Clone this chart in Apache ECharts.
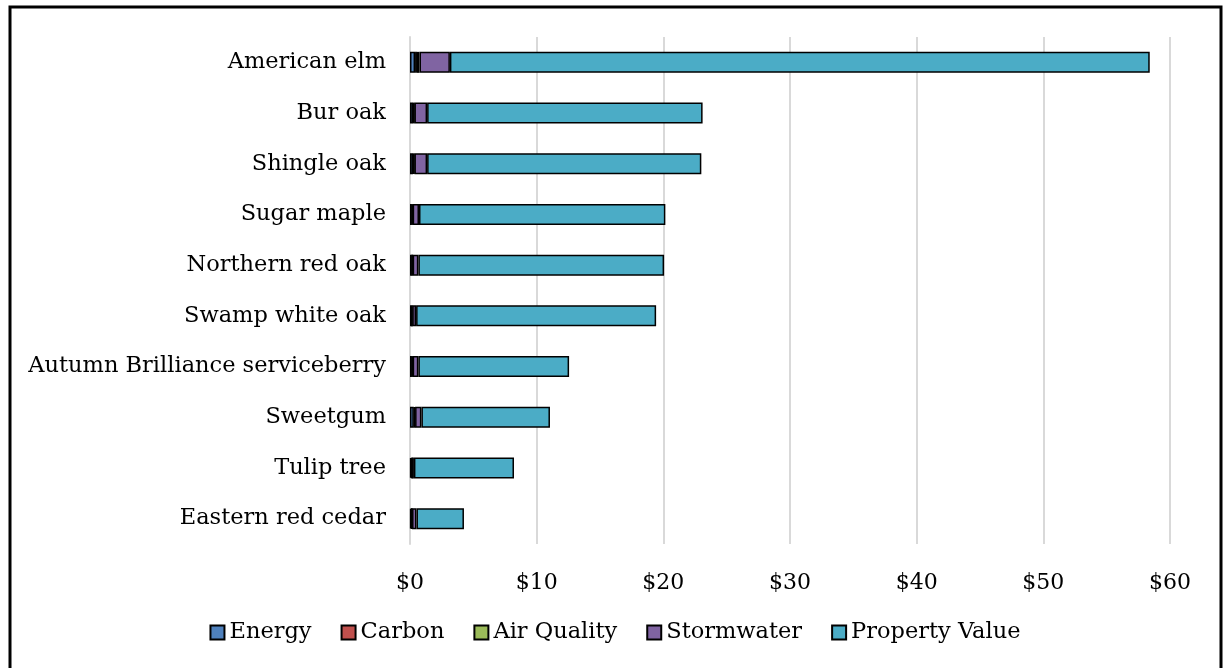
<!DOCTYPE html>
<html>
<head>
<meta charset="utf-8">
<script src="https://cdn.jsdelivr.net/npm/echarts@6/dist/echarts.min.js"></script>
<style>
html,body{margin:0;padding:0;background:#fff;}
#c{width:1230px;height:668px;}
</style>
</head>
<body>
<div id="c"></div>
<script>
const categories = ["American elm","Bur oak","Shingle oak","Sugar maple","Northern red oak","Swamp white oak","Autumn Brilliance serviceberry","Sweetgum","Tulip tree","Eastern red cedar"];
const energy     = [0.40, 0.25, 0.25, 0.15, 0.15, 0.12, 0.15, 0.30, 0.10, 0.10];
const carbon     = [0.15, 0.05, 0.05, 0.03, 0.03, 0.03, 0.03, 0.05, 0.03, 0.03];
const airQuality = [0.20, 0.05, 0.05, 0.03, 0.03, 0.03, 0.03, 0.05, 0.03, 0.03];
const stormwater = [2.40, 1.00, 1.00, 0.50, 0.45, 0.30, 0.45, 0.50, 0.15, 0.35];
const propertyValue = [55.25, 21.75, 21.65, 19.45, 19.40, 18.95, 11.90, 10.15, 7.90, 3.75];
const seriesNames = ["Energy","Carbon","Air Quality","Stormwater","Property Value"];
const seriesColors = ["#4f81bd","#c0504d","#9bbb59","#8064a2","#4bacc6"];
const xTicks = {min:0, max:60, interval:10};

const FONT = "DejaVu Serif";
const chart = echarts.init(document.getElementById('c'), null, {renderer:'canvas'});
const dataSets = [energy, carbon, airQuality, stormwater, propertyValue];
chart.setOption({
  animation:false,
  textStyle:{fontFamily:FONT},
  grid:{left:410, right:60, top:37, bottom:124, containLabel:false},
  legend:{
    bottom:19, left:'center',
    itemWidth:14, itemHeight:14, itemGap:29,
    icon:'rect',
    textStyle:{fontFamily:FONT, fontSize:22.5, color:'#000'},
    data:seriesNames
  },
  xAxis:{
    type:'value', min:xTicks.min, max:xTicks.max, interval:xTicks.interval,
    axisLine:{show:false}, axisTick:{show:false},
    splitLine:{lineStyle:{color:'#d9d9d9', width:2}},
    axisLabel:{formatter:v=>'$'+v, fontFamily:FONT, fontSize:22, color:'#000', margin:28}
  },
  yAxis:{
    type:'category', data:categories, inverse:true,
    axisLine:{show:true, lineStyle:{color:'#d9d9d9', width:2}},
    axisTick:{show:false},
    axisLabel:{fontFamily:FONT, fontSize:22.5, color:'#000', margin:24}
  },
  series: seriesNames.map((n,i)=>({
    name:n, type:'bar', stack:'total', barWidth:21,
    data:dataSets[i],
    itemStyle:{color:seriesColors[i], borderColor:'#000', borderWidth:1.5},
    emphasis:{disabled:true}
  })),
  graphic:[{type:'rect', shape:{x:10, y:7, width:1211, height:700}, style:{fill:'none', stroke:'#000', lineWidth:3}, silent:true}]
});
</script>
</body>
</html>
